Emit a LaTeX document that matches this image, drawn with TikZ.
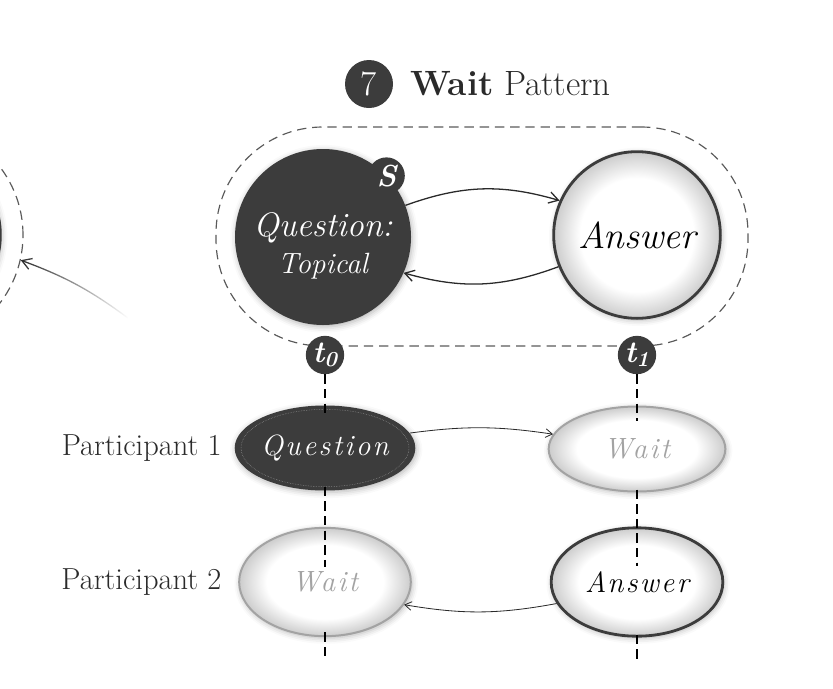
\documentclass[tikz,border=0pt]{standalone}
\usepackage{fontspec}
\setmainfont{Latin Modern Roman}
\usepackage{tikz}
\usetikzlibrary{arrows.meta,calc,positioning,shapes.geometric,shadows.blur,fadings}

\definecolor{darkfill}{HTML}{3C3C3C}
\definecolor{framegray}{HTML}{5A5A5A}
\definecolor{waitgray}{HTML}{A3A3A3}
\definecolor{inkgray}{HTML}{2A2A2A}

\pgfdeclareradialshading{ballshade}{\pgfpoint{0bp}{0bp}}{%
  color(0bp)=(white); color(17bp)=(white); color(25bp)=(black!20); color(50bp)=(black!20)}
\tikzfading[name=fadetail, left color=transparent!0, right color=transparent!100]

\begin{document}
\begin{tikzpicture}[
  x=0.03cm, y=-0.03cm,
  >={Straight Barb[length=2.8mm, width=3.4mm]},
  softshadow/.style={blur shadow={shadow xshift=1pt, shadow yshift=-1.5pt,
    shadow blur radius=5pt, shadow opacity=30}},
  state/.style={circle, inner sep=0pt, align=center, softshadow},
  darkstate/.style={state, fill=darkfill, text=white, minimum size=5.28cm},
  lightstate/.style={state, draw=darkfill, line width=2.4pt, shading=ballshade,
    minimum size=5.0cm, text=black},
  badge/.style={circle, fill=darkfill, text=white, inner sep=0pt, minimum size=1.15cm,
    font=\fontsize{26}{26}\selectfont\bfseries\itshape},
  turn/.style={ellipse, inner sep=0pt, softshadow,
    font=\fontsize{25}{25}\selectfont\itshape\addfontfeature{LetterSpace=8}},
  rowone/.style={minimum width=5.3cm, minimum height=2.55cm},
  rowtwo/.style={minimum width=5.15cm, minimum height=3.25cm},
  active/.style={turn, fill=darkfill, text=white},
  waiting/.style={turn, draw=waitgray, line width=1.7pt, shading=ballshade, text=waitgray},
  answering/.style={turn, draw=darkfill, line width=2.4pt, shading=ballshade, text=black},
  frameline/.style={draw=framegray, dashed, dash pattern=on 8pt off 5pt, line width=1pt},
  timeline/.style={dashed, dash pattern=on 8pt off 4.5pt, line width=1.2pt, black},
  flow/.style={->, line width=1.1pt, inkgray},
  thinflow/.style={-{Straight Barb[length=2mm, width=2.6mm]}, line width=0.7pt, inkgray},
  partlabel/.style={font=\fontsize{26}{28}\selectfont, text=inkgray, inner sep=0pt}
]
\useasboundingbox (0,0) rectangle (833,688);

% --- previous pattern, cut off at the left edge ---
\node[circle, frameline, minimum size=6.72cm] (prevframe) at (-89,235) {};
\node[circle, draw=darkfill, line width=2.4pt, shading=ballshade, minimum size=5.3cm,
  softshadow] (prev) at (-88,235) {};
\coordinate (tailstart) at (128,318);
\draw[flow, path fading=fadetail] (tailstart) to[bend right=8] (prevframe);

% --- title ---
\node[badge, minimum size=1.44cm, font=\fontsize{30}{30}\selectfont] (seven) at (369,84) {7};
\node[font=\fontsize{30}{32}\selectfont, text=inkgray, anchor=west, inner sep=0pt]
  (title) at (410,84) {\textbf{Wait} Pattern};

% --- pattern frame ---
\node[frameline, rounded corners=3.2cm, minimum width=15.96cm, minimum height=6.57cm]
  (frame) at (482,236.5) {};

% --- states ---
\node[darkstate] (question) at (323,237) {};
\node[text=white, align=center, inner sep=0pt] (qtext) at ($(question.center)+(0,9)$)
  {{\fontsize{29}{30}\selectfont\itshape Question:}\\[7pt]{\fontsize{25}{26}\selectfont\itshape Topical}};
\node[lightstate] (answer) at (637,235) {\fontsize{32}{34}\selectfont\itshape Answer};
\node[badge, minimum size=1.1cm] (start) at (question.44) {S};

\draw[flow] (question.21) to[bend left=18] (answer.156);
\draw[flow] (answer.202) to[bend left=18] (question.336);

% --- time badges ---
\node[badge] (t0) at (325,355) {t\textsubscript{\itshape 0}};
\node[badge] (t1) at (637,355) {t\textsubscript{\itshape 1}};

% --- participants ---
\node[active, rowone] (q1) at (325,448) {Question};
\node[waiting, rowone] (w1) at (637,449) {Wait};
\node[waiting, rowtwo] (w2) at (325,582) {Wait};
\node[answering, rowtwo] (a2) at (637,582) {Answer};
\draw[white!55!darkfill, densely dotted, line width=0.4pt]
  (q1.center) ellipse [x radius=2.52cm, y radius=1.16cm];

\node[partlabel, left=0.38cm of q1] (p1) {Participant 1};
\node[partlabel, left=0.5cm of w2] (p2) {Participant 2};

\draw[thinflow] (q1.10) to[bend left=8] (w1.170);
\draw[thinflow] (a2.195) to[bend left=10] (w2.344);

% --- time lines ---
\coordinate (end0) at (325,660);
\coordinate (end1) at (637,660);
\draw[timeline] (t0.south) -- ($(q1.north)+(0,10)$);
\draw[timeline] ($(q1.south)+(0,-4)$) -- ($(w2.north)+(0,40)$);
\draw[timeline] ($(w2.south)+(0,-5)$) -- (end0);
\draw[timeline] (t1.south) -- ($(w1.north)+(0,15)$);
\draw[timeline] ($(w1.south)+(0,-3)$) -- ($(a2.north)+(0,40)$);
\draw[timeline] ($(a2.south)+(0,-3)$) -- (end1);

\end{tikzpicture}
\end{document}
